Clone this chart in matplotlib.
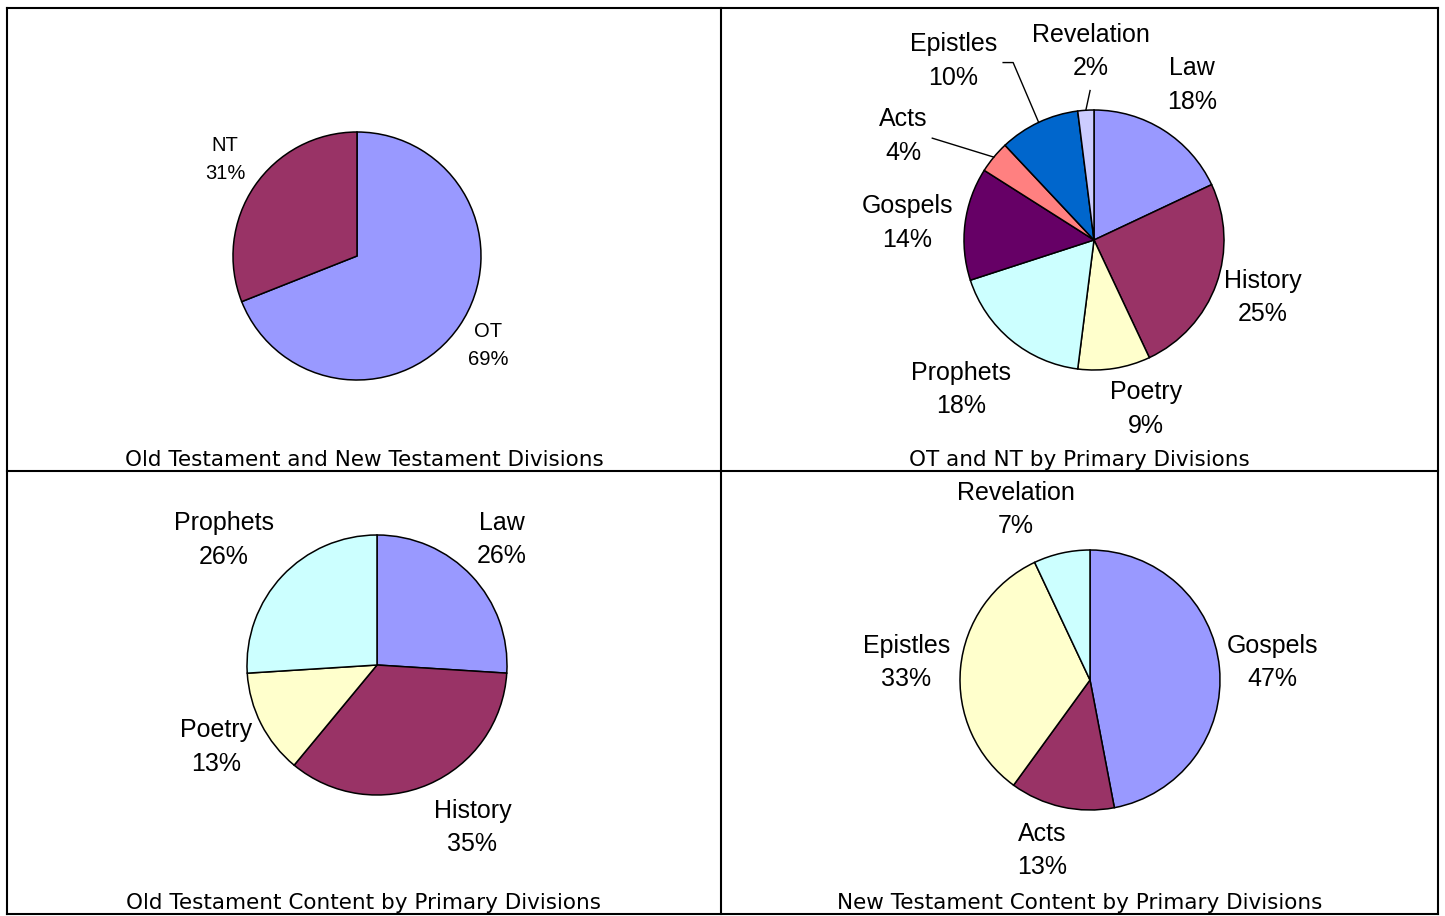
import numpy as np
import matplotlib
matplotlib.use("Agg")
import matplotlib.pyplot as plt

W, H = 1445, 916

# chart 1: OT vs NT
ot_nt_labels = ["OT", "NT"]
ot_nt_values = [69, 31]
ot_nt_colors = ["#9999FF", "#993366"]

# chart 2: both testaments by primary division
all_labels = ["Law", "History", "Poetry", "Prophets", "Gospels", "Acts", "Epistles", "Revelation"]
all_values = [18, 25, 9, 18, 14, 4, 10, 2]
all_colors = ["#9999FF", "#993366", "#FFFFCC", "#CCFFFF", "#660066", "#FF8080", "#0066CC", "#CCCCFF"]

# chart 3: OT content
ot_labels = ["Law", "History", "Poetry", "Prophets"]
ot_values = [26, 35, 13, 26]
ot_colors = ["#9999FF", "#993366", "#FFFFCC", "#CCFFFF"]

# chart 4: NT content
nt_labels = ["Gospels", "Acts", "Epistles", "Revelation"]
nt_values = [47, 13, 33, 7]
nt_colors = ["#9999FF", "#993366", "#FFFFCC", "#CCFFFF"]

captions = ["Old Testament and New Testament Divisions", "OT and NT by Primary Divisions",
            "Old Testament Content by Primary Divisions", "New Testament Content by Primary Divisions"]

fig = plt.figure(figsize=(W / 100, H / 100), dpi=100)
ax = fig.add_axes([0, 0, 1, 1])


def up(y):
    # pixel rows from the top -> axes y
    return H - y


def draw_pie(values, labels, colors, center, r, label_pos, fontsize, spacing, leaders=None):
    cx, cy = center[0], up(center[1])
    wedges, _ = ax.pie(values, colors=colors, startangle=90, counterclock=False,
                       center=(cx, cy), radius=r,
                       wedgeprops=dict(edgecolor="black", linewidth=1.1))
    for i, (w, lab, v) in enumerate(zip(wedges, labels, values)):
        mid = (w.theta1 + w.theta2) / 2
        dist, nudge = label_pos[i]
        a = np.deg2rad(mid + nudge)
        ax.text(cx + dist * r * np.cos(a), cy + dist * r * np.sin(a), f"{lab}\n{v}%",
                ha="center", va="center", fontsize=fontsize, family="Liberation Sans",
                linespacing=spacing)
        if leaders and i in leaders:
            m = np.deg2rad(mid)
            xs, ys = [cx + r * np.cos(m)], [cy + r * np.sin(m)]
            for d, ang, dx in leaders[i]:
                t = np.deg2rad(ang)
                xs.append(cx + d * r * np.cos(t) + dx)
                ys.append(cy + d * r * np.sin(t))
            ax.plot(xs, ys, color="black", lw=1.0)


draw_pie(ot_nt_values, ot_nt_labels, ot_nt_colors, (357, 256), 124,
         [(1.28, 0), (1.32, -2)], 14.5, 1.6)

draw_pie(all_values, all_labels, all_colors, (1094, 240), 130,
         [(1.41, 0), (1.37, 1), (1.36, 8), (1.54, -2), (1.44, 2), (1.67, 11), (1.75, 13), (1.45, -2.6)],
         18, 1.5,
         leaders={5: [(1.47, 147.8, 0)],
                  6: [(1.50, 114.5, 0), (1.50, 114.5, -10)],
                  7: [(1.15, 91.5, 0)]})

draw_pie(ot_values, ot_labels, ot_colors, (377, 665), 130,
         [(1.36, 2), (1.45, 7), (1.39, 0), (1.52, 4)], 18, 1.5)

draw_pie(nt_values, nt_labels, nt_colors, (1090, 680), 130,
         [(1.41, 0), (1.36, -3), (1.42, 0), (1.43, 11)], 18, 1.5)

# table grid
left, right, top, mid_y, bottom, mid_x = 7, 1438, 8, 471, 914, 721
for x0, y0, x1, y1 in [(left, top, right, top), (left, bottom, right, bottom),
                       (left, top, left, bottom), (right, top, right, bottom),
                       (left, mid_y, right, mid_y), (mid_x, top, mid_x, bottom)]:
    ax.plot([x0, x1], [up(y0), up(y1)], color="black", lw=1.5, solid_capstyle="projecting")

for i, cap in enumerate(captions):
    xc = (left + mid_x) / 2 if i % 2 == 0 else (mid_x + right) / 2
    yc = 460 if i < 2 else 903
    ax.text(xc, up(yc), cap, ha="center", va="center", fontsize=15.5, family="DejaVu Sans")

ax.set_xlim(0, W)
ax.set_ylim(0, H)
ax.set_aspect("auto")
ax.axis("off")

fig.savefig("out.png", dpi=100, facecolor="white")
